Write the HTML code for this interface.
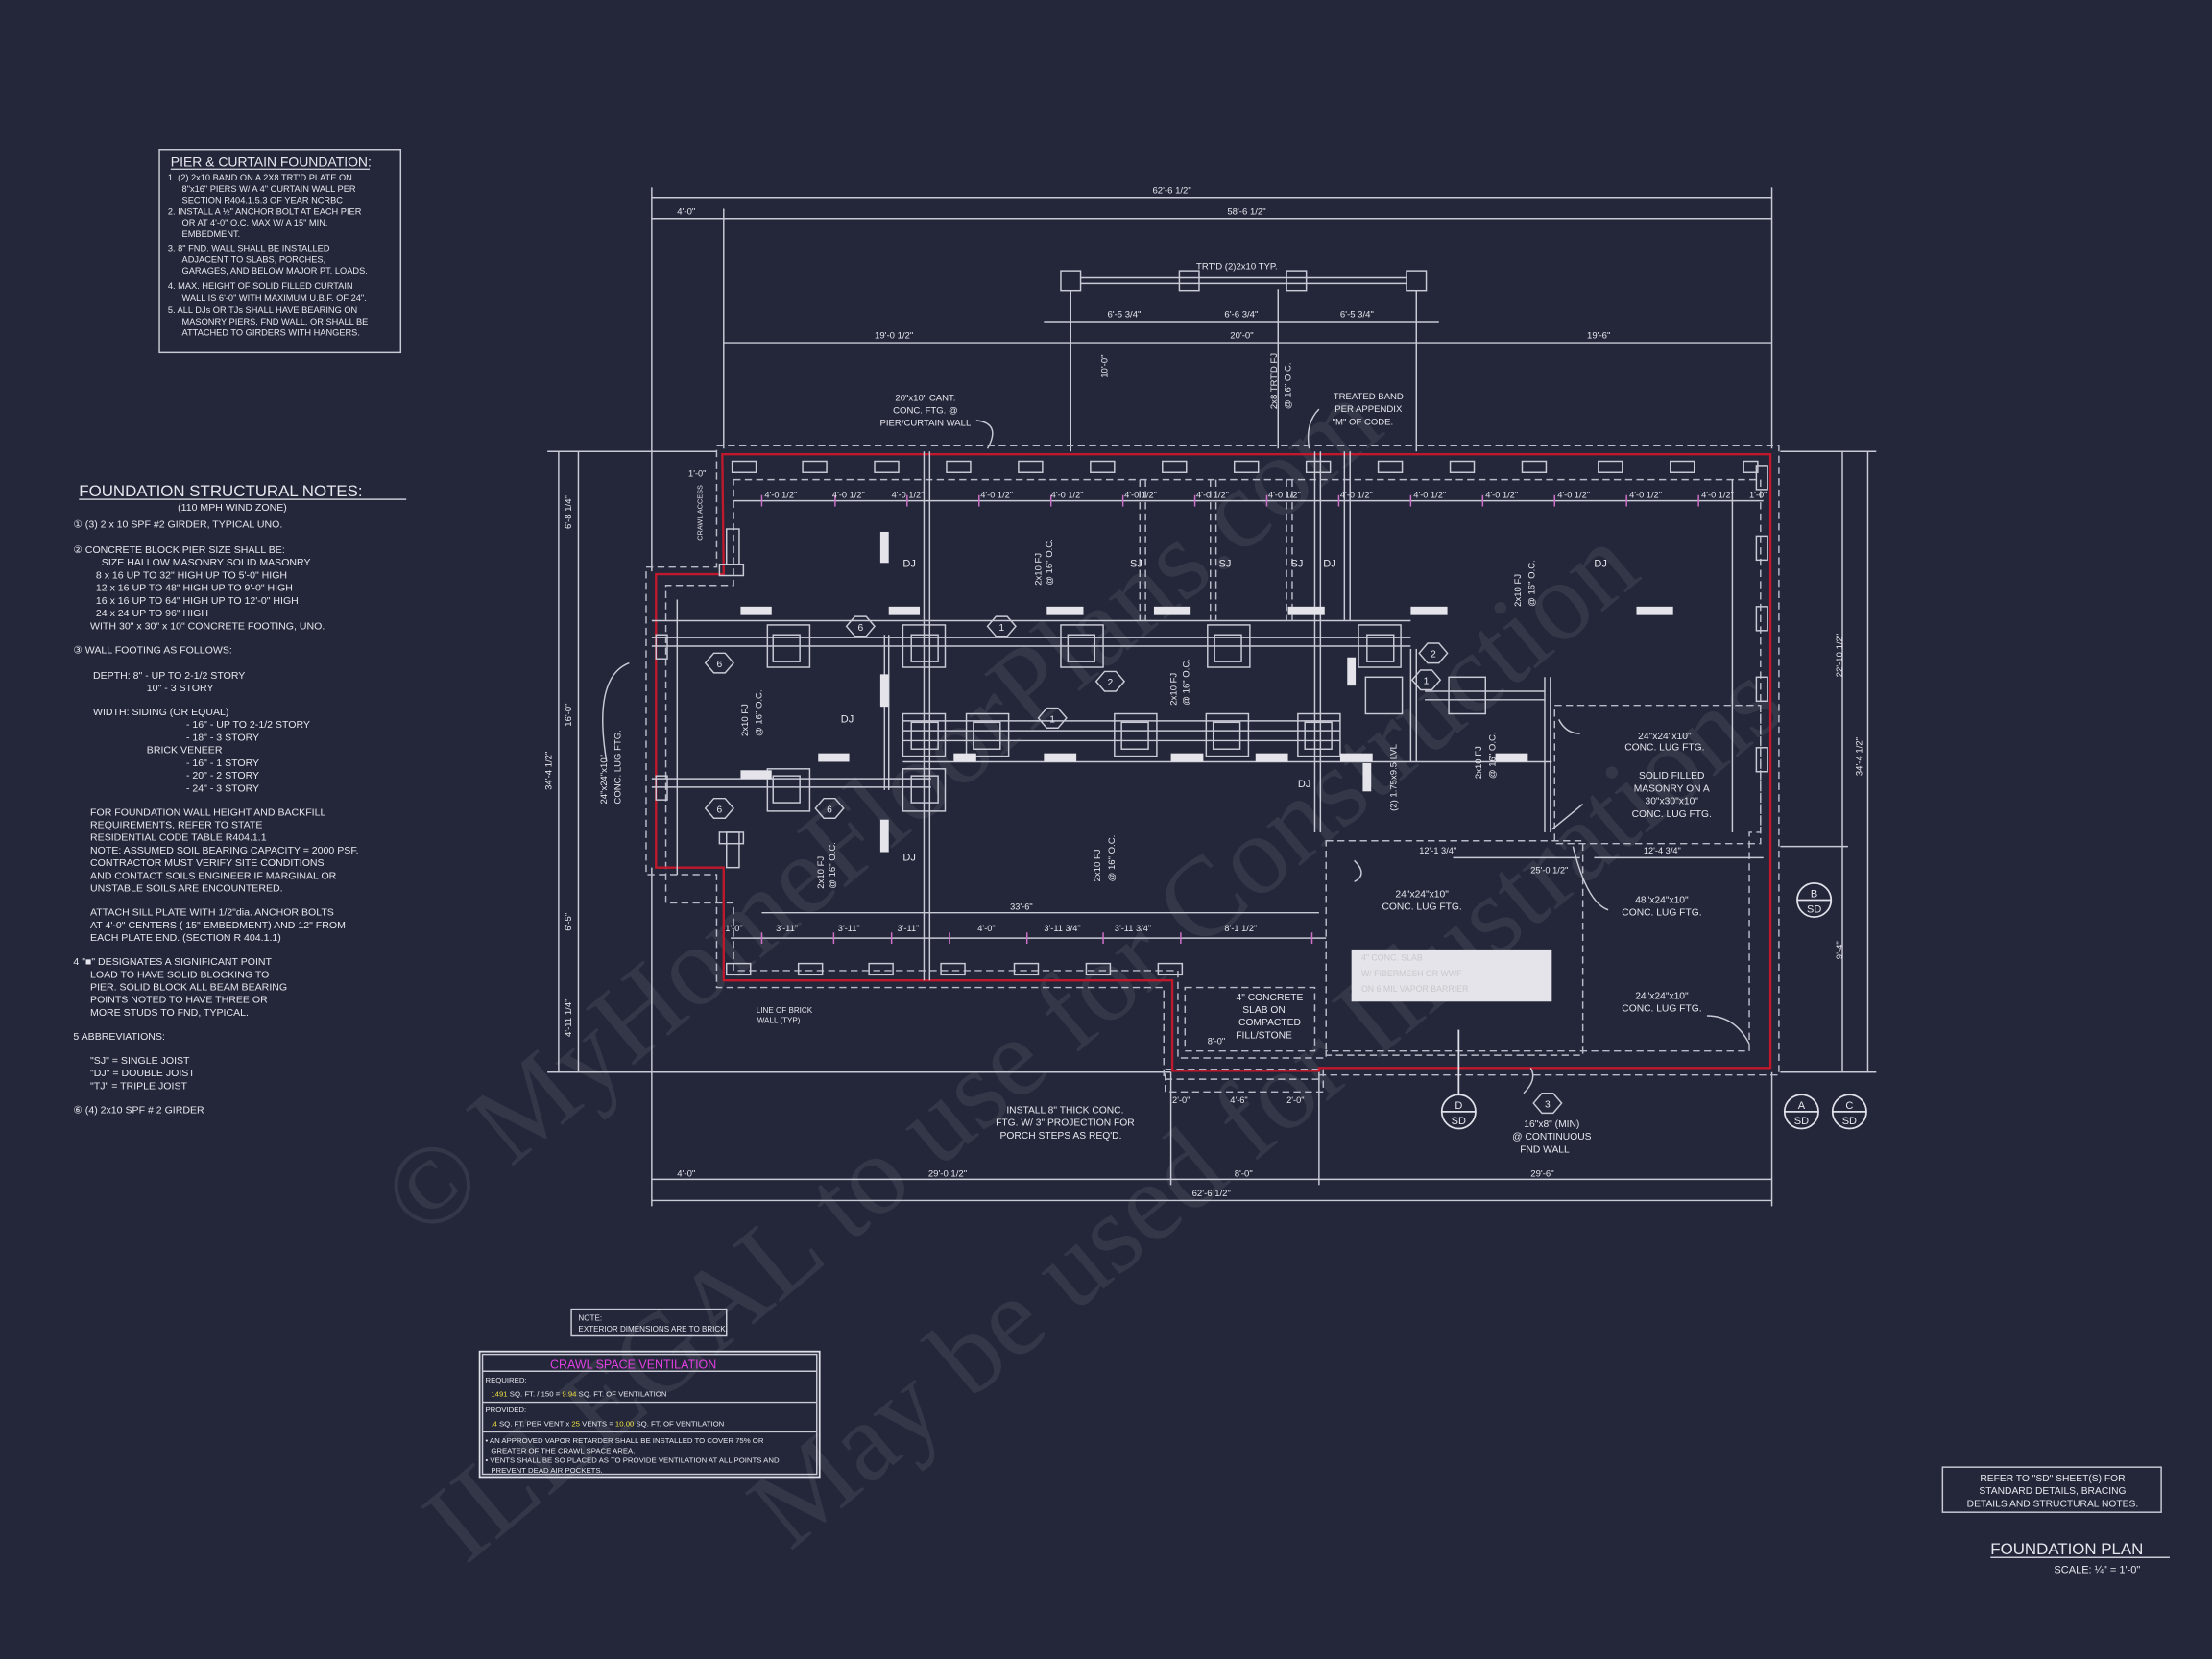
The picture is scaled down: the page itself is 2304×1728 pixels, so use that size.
<!DOCTYPE html>
<html><head><meta charset="utf-8"><style>
html,body{margin:0;padding:0;background:#232739;}
svg{display:block}
text{font-family:"Liberation Sans",sans-serif;fill:#e6e6ee;}
.l{stroke:#c9cad6;stroke-width:1;fill:none}
.t{stroke:#e0e0ea;stroke-width:1.2;fill:none}
.d{stroke:#b9bac8;stroke-width:1;fill:none;stroke-dasharray:5 3}
.r{stroke:#c0182c;stroke-width:1.6;fill:none}
.m{stroke:#d070c8;stroke-width:1}
.w{fill:#e4e4ea}
</style></head><body>
<svg width="2304" height="1728" viewBox="0 0 1568 1176" xmlns="http://www.w3.org/2000/svg">
<rect width="1568" height="1176" fill="#232739"/>

<!-- watermark -->
<g opacity="0.07">
<text x="300" y="880" font-size="80" transform="rotate(-40 300 880)" style="fill:#fff;font-family:'Liberation Serif'">© MyHomeFloorPlans.com</text>
<text x="330" y="1110" font-size="80" transform="rotate(-40 330 1110)" style="fill:#fff;font-family:'Liberation Serif'">ILLEGAL to use for Construction</text>
<text x="560" y="1100" font-size="80" transform="rotate(-40 560 1100)" style="fill:#fff;font-family:'Liberation Serif'">May be used for Illustrations</text>
</g>

<!-- Pier & curtain box -->
<rect x="113" y="106" width="171" height="144" class="l"/>
<text x="121" y="118" font-size="9.5">PIER &amp; CURTAIN FOUNDATION:</text>
<line x1="121" y1="120" x2="262" y2="120" class="l"/>
<g font-size="6.3">
<text x="119" y="128">1. (2) 2x10 BAND ON A 2X8 TRT'D PLATE ON</text>
<text x="129" y="136">8"x16" PIERS W/ A 4" CURTAIN WALL PER</text>
<text x="129" y="144">SECTION R404.1.5.3 OF YEAR NCRBC</text>
<text x="119" y="152">2. INSTALL A ½" ANCHOR BOLT AT EACH PIER</text>
<text x="129" y="160">OR AT 4'-0" O.C. MAX W/ A 15" MIN.</text>
<text x="129" y="168">EMBEDMENT.</text>
<text x="119" y="178">3. 8" FND. WALL SHALL BE INSTALLED</text>
<text x="129" y="186">ADJACENT TO SLABS, PORCHES,</text>
<text x="129" y="194">GARAGES, AND BELOW MAJOR PT. LOADS.</text>
<text x="119" y="205">4. MAX. HEIGHT OF SOLID FILLED CURTAIN</text>
<text x="129" y="213">WALL IS 6'-0" WITH MAXIMUM U.B.F. OF 24".</text>
<text x="119" y="222">5. ALL DJs OR TJs SHALL HAVE BEARING ON</text>
<text x="129" y="230">MASONRY PIERS, FND WALL, OR SHALL BE</text>
<text x="129" y="238">ATTACHED TO GIRDERS WITH HANGERS.</text>
</g>

<!-- Structural notes -->
<text x="56" y="352" font-size="11.5">FOUNDATION STRUCTURAL NOTES:</text>
<line x1="56" y1="354" x2="288" y2="354" class="l"/>
<g font-size="7.2">
<text x="126" y="362">(110 MPH WIND ZONE)</text>
<text x="52" y="374">① (3) 2 x 10 SPF #2 GIRDER, TYPICAL UNO.</text>
<text x="52" y="392">② CONCRETE BLOCK PIER SIZE SHALL BE:</text>
<text x="72" y="401">SIZE      HALLOW MASONRY    SOLID MASONRY</text>
<text x="68" y="410">8 x 16        UP TO 32" HIGH      UP TO 5'-0" HIGH</text>
<text x="68" y="419">12 x 16       UP TO 48" HIGH      UP TO 9'-0" HIGH</text>
<text x="68" y="428">16 x 16       UP TO 64" HIGH      UP TO 12'-0" HIGH</text>
<text x="68" y="437">24 x 24       UP TO 96" HIGH</text>
<text x="64" y="446">WITH 30" x 30" x 10" CONCRETE FOOTING, UNO.</text>
<text x="52" y="463">③ WALL FOOTING AS FOLLOWS:</text>
<text x="66" y="481">DEPTH:   8" - UP TO 2-1/2 STORY</text>
<text x="104" y="490">10" - 3 STORY</text>
<text x="66" y="507">WIDTH:   SIDING (OR EQUAL)</text>
<text x="132" y="516">- 16" - UP TO 2-1/2 STORY</text>
<text x="132" y="525">- 18" - 3 STORY</text>
<text x="104" y="534">BRICK VENEER</text>
<text x="132" y="543">- 16" - 1 STORY</text>
<text x="132" y="552">- 20" - 2 STORY</text>
<text x="132" y="561">- 24" - 3 STORY</text>
<text x="64" y="578">FOR FOUNDATION WALL HEIGHT AND BACKFILL</text>
<text x="64" y="587">REQUIREMENTS, REFER TO STATE</text>
<text x="64" y="596">RESIDENTIAL CODE TABLE R404.1.1</text>
<text x="64" y="605">NOTE: ASSUMED SOIL BEARING CAPACITY = 2000 PSF.</text>
<text x="64" y="614">CONTRACTOR MUST VERIFY SITE CONDITIONS</text>
<text x="64" y="623">AND CONTACT SOILS ENGINEER IF MARGINAL OR</text>
<text x="64" y="632">UNSTABLE SOILS ARE ENCOUNTERED.</text>
<text x="64" y="649">ATTACH SILL PLATE WITH 1/2"dia. ANCHOR BOLTS</text>
<text x="64" y="658">AT 4'-0" CENTERS ( 15" EMBEDMENT) AND 12" FROM</text>
<text x="64" y="667">EACH PLATE END. (SECTION R 404.1.1)</text>
<text x="52" y="684">4  "■" DESIGNATES A SIGNIFICANT POINT</text>
<text x="64" y="693">LOAD TO HAVE SOLID BLOCKING TO</text>
<text x="64" y="702">PIER. SOLID BLOCK ALL BEAM BEARING</text>
<text x="64" y="711">POINTS NOTED TO HAVE THREE OR</text>
<text x="64" y="720">MORE STUDS TO FND, TYPICAL.</text>
<text x="52" y="737">5  ABBREVIATIONS:</text>
<text x="64" y="754">"SJ" = SINGLE JOIST</text>
<text x="64" y="763">"DJ" = DOUBLE JOIST</text>
<text x="64" y="772">"TJ" = TRIPLE JOIST</text>
<text x="52" y="789">⑥ (4) 2x10 SPF # 2 GIRDER</text>
</g>

<!-- overall dimension lines -->
<g class="l">
<line x1="462" y1="140" x2="1256" y2="140"/><line x1="462" y1="155" x2="1256" y2="155"/>
<line x1="462" y1="133" x2="462" y2="405"/><line x1="513" y1="148" x2="513" y2="318"/><line x1="1256" y1="133" x2="1256" y2="318"/>
<line x1="513" y1="243" x2="1256" y2="243"/>
<line x1="740" y1="228" x2="1020" y2="228"/>
<line x1="462" y1="836" x2="1256" y2="836"/><line x1="462" y1="851" x2="1256" y2="851"/>
<line x1="462" y1="615" x2="462" y2="855"/><line x1="1256" y1="760" x2="1256" y2="855"/>
<line x1="830" y1="760" x2="830" y2="840"/><line x1="935" y1="760" x2="935" y2="840"/>
<line x1="396" y1="320" x2="396" y2="760"/><line x1="410" y1="320" x2="410" y2="760"/>
<line x1="388" y1="320" x2="508" y2="320"/><line x1="388" y1="760" x2="830" y2="760"/>
<line x1="1306" y1="320" x2="1306" y2="760"/><line x1="1324" y1="320" x2="1324" y2="760"/>
<line x1="1262" y1="320" x2="1330" y2="320"/><line x1="1262" y1="760" x2="1330" y2="760"/>
<line x1="1262" y1="600" x2="1310" y2="600"/>
</g>
<g font-size="6.5">
<text x="817" y="137">62'-6 1/2"</text><text x="480" y="152">4'-0"</text><text x="870" y="152">58'-6 1/2"</text>
<text x="620" y="240">19'-0 1/2"</text><text x="872" y="240">20'-0"</text><text x="1125" y="240">19'-6"</text>
<text x="785" y="225">6'-5 3/4"</text><text x="868" y="225">6'-6 3/4"</text><text x="950" y="225">6'-5 3/4"</text>
<text x="480" y="834">4'-0"</text><text x="658" y="834">29'-0 1/2"</text><text x="875" y="834">8'-0"</text><text x="1085" y="834">29'-6"</text>
<text x="845" y="848">62'-6 1/2"</text>
<text x="1306" y="480" transform="rotate(-90 1306 480)">22'-10 1/2"</text>
<text x="1320" y="550" transform="rotate(-90 1320 550)">34'-4 1/2"</text>
<text x="1306" y="680" transform="rotate(-90 1306 680)">9'-4"</text>
<text x="391" y="560" transform="rotate(-90 391 560)">34'-4 1/2"</text>
<text x="405" y="375" transform="rotate(-90 405 375)">6'-8 1/4"</text>
<text x="405" y="515" transform="rotate(-90 405 515)">16'-0"</text>
<text x="405" y="660" transform="rotate(-90 405 660)">6'-5"</text>
<text x="405" y="735" transform="rotate(-90 405 735)">4'-11 1/4"</text>
</g>

<!-- rear porch -->
<g class="l">
<rect x="752" y="192" width="14" height="14"/><rect x="836" y="192" width="14" height="14"/><rect x="912" y="192" width="14" height="14"/><rect x="997" y="192" width="14" height="14"/>
<line x1="766" y1="197" x2="997" y2="197"/><line x1="766" y1="201" x2="997" y2="201"/>
<line x1="759" y1="206" x2="759" y2="320"/><line x1="1004" y1="206" x2="1004" y2="320"/>
<line x1="906" y1="205" x2="906" y2="318"/>
</g>
<text x="848" y="191" font-size="6.5">TRT'D (2)2x10 TYP.</text>
<text x="785" y="268" font-size="6.5" transform="rotate(-90 785 268)">10'-0"</text>
<text x="905" y="290" font-size="6.5" transform="rotate(-90 905 290)">2x8 TRT'D FJ</text>
<text x="915" y="290" font-size="6.5" transform="rotate(-90 915 290)">@ 16" O.C.</text>
<g font-size="6.5" text-anchor="middle">
<text x="656" y="284">20"x10" CANT.</text><text x="656" y="293">CONC. FTG. @</text><text x="656" y="302">PIER/CURTAIN WALL</text>
<text x="970" y="283">TREATED BAND</text><text x="970" y="292">PER APPENDIX</text><text x="966" y="301">"M" OF CODE.</text>
</g>
<path d="M692 298 Q710 300 700 318" class="l"/><path d="M935 290 Q925 300 928 318" class="l"/>

<!-- foundation outline -->
<g class="d">
<path d="M508 316 H1261 V762 H935 V765 H825 V700 H508 V620 H458 V402 H508 Z"/>
<path d="M520 340 H1248 V590 H1240 V745 H940 V750 H835 V688 H520 V640 H472 V415 H520 Z"/>
<rect x="940" y="596" width="182" height="152"/>
<rect x="1102" y="500" width="146" height="98"/>
<rect x="840" y="700" width="92" height="45"/>
<rect x="826" y="758" width="112" height="16"/>
</g>
<path d="M512 322 H1255 V757 H935 V759 H831 V695 H513 V615 H465 V407 H513 Z" class="r"/>

<!-- top & bottom piers -->
<g class="l">
<rect x="519" y="327" width="17" height="8"/><rect x="569" y="327" width="17" height="8"/><rect x="620" y="327" width="17" height="8"/><rect x="671" y="327" width="17" height="8"/><rect x="722" y="327" width="17" height="8"/><rect x="773" y="327" width="17" height="8"/><rect x="824" y="327" width="17" height="8"/><rect x="875" y="327" width="17" height="8"/><rect x="926" y="327" width="17" height="8"/><rect x="977" y="327" width="17" height="8"/><rect x="1028" y="327" width="17" height="8"/><rect x="1079" y="327" width="17" height="8"/><rect x="1133" y="327" width="17" height="8"/><rect x="1184" y="327" width="17" height="8"/><rect x="1236" y="327" width="10" height="8"/>
<rect x="515" y="683" width="17" height="8"/><rect x="566" y="683" width="17" height="8"/><rect x="616" y="683" width="17" height="8"/><rect x="667" y="683" width="17" height="8"/><rect x="719" y="683" width="17" height="8"/><rect x="770" y="683" width="17" height="8"/><rect x="821" y="683" width="17" height="8"/>
<rect x="515" y="375" width="9" height="25"/><rect x="510" y="400" width="17" height="8"/>
<rect x="515" y="590" width="9" height="25"/><rect x="510" y="590" width="17" height="8"/>
<rect x="465" y="450" width="8" height="17"/><rect x="465" y="550" width="8" height="17"/>
<rect x="1245" y="330" width="8" height="17"/><rect x="1245" y="380" width="8" height="17"/><rect x="1245" y="430" width="8" height="17"/><rect x="1245" y="480" width="8" height="17"/><rect x="1245" y="530" width="8" height="17"/>
</g>

<!-- dimension strings interior -->
<g class="l">
<line x1="520" y1="355" x2="1250" y2="355"/>
<line x1="518" y1="665" x2="940" y2="665"/><line x1="540" y1="647" x2="935" y2="647"/>
<line x1="1030" y1="608" x2="1120" y2="608"/><line x1="1130" y1="608" x2="1250" y2="608"/>
<line x1="480" y1="425" x2="480" y2="620"/><line x1="1228" y1="340" x2="1228" y2="590"/>
</g>
<g class="m">
<line x1="540" y1="351" x2="540" y2="359"/><line x1="592" y1="351" x2="592" y2="359"/><line x1="643" y1="351" x2="643" y2="359"/><line x1="694" y1="351" x2="694" y2="359"/><line x1="745" y1="351" x2="745" y2="359"/><line x1="796" y1="351" x2="796" y2="359"/><line x1="847" y1="351" x2="847" y2="359"/><line x1="898" y1="351" x2="898" y2="359"/><line x1="949" y1="351" x2="949" y2="359"/><line x1="1000" y1="351" x2="1000" y2="359"/><line x1="1051" y1="351" x2="1051" y2="359"/><line x1="1102" y1="351" x2="1102" y2="359"/><line x1="1153" y1="351" x2="1153" y2="359"/><line x1="1204" y1="351" x2="1204" y2="359"/>
<line x1="540" y1="661" x2="540" y2="669"/><line x1="591" y1="661" x2="591" y2="669"/><line x1="632" y1="661" x2="632" y2="669"/><line x1="673" y1="661" x2="673" y2="669"/><line x1="728" y1="661" x2="728" y2="669"/><line x1="782" y1="661" x2="782" y2="669"/><line x1="837" y1="661" x2="837" y2="669"/><line x1="930" y1="661" x2="930" y2="669"/>
</g>
<g font-size="6.3">
<text x="542" y="353">4'-0 1/2"</text><text x="590" y="353">4'-0 1/2"</text><text x="632" y="353">4'-0 1/2"</text><text x="695" y="353">4'-0 1/2"</text><text x="745" y="353">4'-0 1/2"</text><text x="797" y="353">4'-0 1/2"</text><text x="848" y="353">4'-0 1/2"</text><text x="899" y="353">4'-0 1/2"</text><text x="950" y="353">4'-0 1/2"</text><text x="1002" y="353">4'-0 1/2"</text><text x="1053" y="353">4'-0 1/2"</text><text x="1104" y="353">4'-0 1/2"</text><text x="1155" y="353">4'-0 1/2"</text><text x="1206" y="353">4'-0 1/2"</text>
<text x="514" y="660">1'-0"</text><text x="550" y="660">3'-11"</text><text x="594" y="660">3'-11"</text><text x="636" y="660">3'-11"</text><text x="693" y="660">4'-0"</text><text x="740" y="660">3'-11 3/4"</text><text x="790" y="660">3'-11 3/4"</text><text x="868" y="660">8'-1 1/2"</text>
<text x="716" y="645">33'-6"</text>
<text x="1006" y="605">12'-1 3/4"</text><text x="1165" y="605">12'-4 3/4"</text><text x="1085" y="619">25'-0 1/2"</text>
<text x="488" y="338">1'-0"</text><text x="1240" y="353">1'-0"</text>
</g>

<!-- girders -->
<g class="l">
<line x1="462" y1="440" x2="1000" y2="440"/><line x1="462" y1="452" x2="1000" y2="452"/><line x1="462" y1="458" x2="1000" y2="458"/>
<line x1="640" y1="511" x2="950" y2="511"/><line x1="640" y1="518" x2="950" y2="518"/><line x1="640" y1="525" x2="950" y2="525"/><line x1="640" y1="540" x2="1100" y2="540"/>
<line x1="462" y1="552" x2="660" y2="552"/><line x1="462" y1="558" x2="660" y2="558"/>
<line x1="1010" y1="490" x2="1095" y2="490"/><line x1="1010" y1="496" x2="1095" y2="496"/>
<line x1="655" y1="320" x2="655" y2="695"/><line x1="659" y1="320" x2="659" y2="695"/>
<line x1="630" y1="450" x2="630" y2="560"/><line x1="627" y1="450" x2="627" y2="560"/>
<line x1="932" y1="320" x2="932" y2="590"/><line x1="936" y1="320" x2="936" y2="590"/>
<line x1="953" y1="320" x2="953" y2="440"/><line x1="957" y1="320" x2="957" y2="440"/>
<line x1="1000" y1="460" x2="1000" y2="540"/><line x1="1004" y1="460" x2="1004" y2="540"/>
<line x1="1095" y1="480" x2="1095" y2="590"/><line x1="1099" y1="480" x2="1099" y2="590"/>
</g>
<g class="d">
<line x1="808" y1="340" x2="808" y2="440"/><line x1="812" y1="340" x2="812" y2="440"/>
<line x1="858" y1="340" x2="858" y2="440"/><line x1="862" y1="340" x2="862" y2="440"/>
<line x1="912" y1="340" x2="912" y2="440"/><line x1="916" y1="340" x2="916" y2="440"/>
</g>

<!-- pier symbols -->
<g class="l">
<rect x="544" y="443" width="30" height="30"/><rect x="548" y="450" width="19" height="19"/>
<rect x="640" y="443" width="30" height="30"/><rect x="646" y="450" width="19" height="19"/>
<rect x="752" y="443" width="30" height="30"/><rect x="757" y="450" width="19" height="19"/>
<rect x="856" y="443" width="30" height="30"/><rect x="861" y="450" width="19" height="19"/>
<rect x="963" y="443" width="30" height="30"/><rect x="969" y="450" width="19" height="19"/>
<rect x="640" y="506" width="30" height="30"/><rect x="646" y="512" width="19" height="19"/>
<rect x="685" y="506" width="30" height="30"/><rect x="690" y="512" width="19" height="19"/>
<rect x="790" y="506" width="30" height="30"/><rect x="795" y="512" width="19" height="19"/>
<rect x="855" y="506" width="30" height="30"/><rect x="860" y="512" width="19" height="19"/>
<rect x="920" y="506" width="30" height="30"/><rect x="925" y="512" width="19" height="19"/>
<rect x="544" y="545" width="30" height="30"/><rect x="548" y="550" width="19" height="19"/>
<rect x="640" y="545" width="30" height="30"/><rect x="646" y="550" width="19" height="19"/>
<rect x="968" y="480" width="26" height="26"/><rect x="1027" y="480" width="26" height="26"/>
</g>

<!-- white label patches -->
<g class="w">
<rect x="525" y="430" width="22" height="6"/><rect x="630" y="430" width="22" height="6"/><rect x="742" y="430" width="26" height="6"/><rect x="818" y="430" width="26" height="6"/><rect x="913" y="430" width="26" height="6"/><rect x="1000" y="430" width="26" height="6"/><rect x="1160" y="430" width="26" height="6"/>
<rect x="525" y="546" width="22" height="6"/><rect x="580" y="534" width="22" height="6"/><rect x="676" y="534" width="16" height="6"/><rect x="740" y="534" width="23" height="6"/><rect x="830" y="534" width="23" height="6"/><rect x="890" y="534" width="23" height="6"/><rect x="950" y="534" width="23" height="6"/><rect x="1060" y="534" width="23" height="6"/>
<rect x="624" y="377" width="6" height="22"/><rect x="624" y="478" width="6" height="23"/><rect x="624" y="581" width="6" height="23"/><rect x="955" y="466" width="6" height="20"/><rect x="966" y="541" width="6" height="20"/>
<rect x="958" y="673" width="142" height="37"/>
</g>
<g font-size="6"><text x="965" y="681" style="fill:#c8c8cc">4" CONC. SLAB</text><text x="965" y="692" style="fill:#c8c8cc">W/ FIBERMESH OR WWF</text><text x="965" y="703" style="fill:#c8c8cc">ON 6 MIL VAPOR BARRIER</text></g>

<!-- labels inside -->
<g font-size="7.5">
<text x="640" y="402">DJ</text><text x="801" y="402">SJ</text><text x="864" y="402">SJ</text><text x="915" y="402">SJ</text><text x="938" y="402">DJ</text><text x="1130" y="402">DJ</text>
<text x="596" y="512">DJ</text><text x="920" y="558">DJ</text><text x="640" y="610">DJ</text>
</g>
<g font-size="6.5">
<text x="738" y="415" transform="rotate(-90 738 415)">2x10 FJ</text><text x="746" y="415" transform="rotate(-90 746 415)">@ 16" O.C.</text>
<text x="1078" y="430" transform="rotate(-90 1078 430)">2x10 FJ</text><text x="1088" y="430" transform="rotate(-90 1088 430)">@ 16" O.C.</text>
<text x="530" y="522" transform="rotate(-90 530 522)">2x10 FJ</text><text x="540" y="522" transform="rotate(-90 540 522)">@ 16" O.C.</text>
<text x="834" y="500" transform="rotate(-90 834 500)">2x10 FJ</text><text x="843" y="500" transform="rotate(-90 843 500)">@ 16" O.C.</text>
<text x="584" y="630" transform="rotate(-90 584 630)">2x10 FJ</text><text x="592" y="630" transform="rotate(-90 592 630)">@ 16" O.C.</text>
<text x="780" y="625" transform="rotate(-90 780 625)">2x10 FJ</text><text x="790" y="625" transform="rotate(-90 790 625)">@ 16" O.C.</text>
<text x="1050" y="552" transform="rotate(-90 1050 552)">2x10 FJ</text><text x="1060" y="552" transform="rotate(-90 1060 552)">@ 16" O.C.</text>
<text x="990" y="575" transform="rotate(-90 990 575)">(2) 1.75x9.5 LVL</text>
<text x="498" y="383" font-size="5" transform="rotate(-90 498 383)">CRAWL ACCESS</text>
<text x="430" y="570" transform="rotate(-90 430 570)">24"x24"x10"</text><text x="440" y="570" transform="rotate(-90 440 570)">CONC. LUG FTG.</text>
</g>
<g font-size="7" text-anchor="middle">
<text x="1180" y="524">24"x24"x10"</text><text x="1180" y="532">CONC. LUG FTG.</text>
<text x="1185" y="552">SOLID FILLED</text><text x="1185" y="561">MASONRY ON A</text><text x="1185" y="570">30"x30"x10"</text><text x="1185" y="579">CONC. LUG FTG.</text>
<text x="1008" y="636">24"x24"x10"</text><text x="1008" y="645">CONC. LUG FTG.</text>
<text x="1178" y="640">48"x24"x10"</text><text x="1178" y="649">CONC. LUG FTG.</text>
<text x="1178" y="708">24"x24"x10"</text><text x="1178" y="717">CONC. LUG FTG.</text>
<text x="900" y="709">4" CONCRETE</text><text x="896" y="718">SLAB ON</text><text x="900" y="727">COMPACTED</text><text x="896" y="736">FILL/STONE</text>
<text x="755" y="789">INSTALL 8" THICK CONC.</text><text x="755" y="798">FTG. W/ 3" PROJECTION FOR</text><text x="752" y="807">PORCH STEPS AS REQ'D.</text>
<text x="1100" y="799">16"x8" (MIN)</text><text x="1100" y="808">@ CONTINUOUS</text><text x="1095" y="817">FND WALL</text>
<text x="556" y="718" font-size="5.5">LINE OF BRICK</text><text x="552" y="725" font-size="5.5">WALL (TYP)</text>
</g>
<g font-size="6.3"><text x="856" y="740">8'-0"</text><text x="831" y="782">2'-0"</text><text x="872" y="782">4'-6"</text><text x="912" y="782">2'-0"</text></g>
<g class="l">
<path d="M960 625 Q970 620 960 610"/><path d="M1122 570 Q1110 580 1100 588"/><path d="M1120 520 Q1110 520 1105 510"/><path d="M1140 645 Q1125 640 1115 600"/><path d="M1210 720 Q1230 720 1240 740"/><path d="M1080 775 Q1090 765 1085 757"/><path d="M430 540 Q420 480 446 470"/>
</g>

<!-- hex tags -->
<g class="l">
<polygon points="600,444 606,437 614,437 620,444 614,451 606,451"/><polygon points="700,444 706,437 714,437 720,444 714,451 706,451"/>
<polygon points="500,470 506,463 514,463 520,470 514,477 506,477"/><polygon points="500,573 506,566 514,566 520,573 514,580 506,580"/><polygon points="578,573 584,566 592,566 598,573 592,580 584,580"/>
<polygon points="736,509 742,502 750,502 756,509 750,516 742,516"/><polygon points="777,483 783,476 791,476 797,483 791,490 783,490"/>
<polygon points="1006,463 1012,456 1020,456 1026,463 1020,470 1012,470"/><polygon points="1001,482 1007,475 1015,475 1021,482 1015,489 1007,489"/>
<polygon points="1087,782 1093,775 1101,775 1107,782 1101,789 1093,789"/>
</g>
<g font-size="7" text-anchor="middle"><text x="610" y="447">6</text><text x="710" y="447">1</text><text x="510" y="473">6</text><text x="510" y="576">6</text><text x="588" y="576">6</text><text x="746" y="512">1</text><text x="787" y="486">2</text><text x="1016" y="466">2</text><text x="1011" y="485">1</text><text x="1097" y="785">3</text></g>

<!-- section circles -->
<g class="t">
<circle cx="1286" cy="638" r="12"/><line x1="1274" y1="638" x2="1298" y2="638"/>
<circle cx="1034" cy="788" r="12"/><line x1="1022" y1="788" x2="1046" y2="788"/>
<circle cx="1277" cy="788" r="12"/><line x1="1265" y1="788" x2="1289" y2="788"/>
<circle cx="1311" cy="788" r="12"/><line x1="1299" y1="788" x2="1323" y2="788"/>
<line x1="1034" y1="730" x2="1034" y2="776"/>
</g>
<g font-size="7.5" text-anchor="middle">
<text x="1286" y="636">B</text><text x="1286" y="647">SD</text><text x="1034" y="786">D</text><text x="1034" y="797">SD</text>
<text x="1277" y="786">A</text><text x="1277" y="797">SD</text><text x="1311" y="786">C</text><text x="1311" y="797">SD</text>
</g>

<!-- note box -->
<rect x="405" y="928" width="110" height="19" class="l"/>
<text x="410" y="936" font-size="5.5">NOTE:</text><text x="410" y="944" font-size="5.5">EXTERIOR DIMENSIONS ARE TO BRICK.</text>

<!-- crawl space table -->
<rect x="340" y="958" width="241" height="89" class="t"/>
<rect x="342" y="960" width="237" height="85" class="l"/>
<line x1="342" y1="972" x2="579" y2="972" class="l"/><line x1="342" y1="994" x2="579" y2="994" class="l"/><line x1="342" y1="1015" x2="579" y2="1015" class="l"/>
<text x="390" y="970" font-size="8.5" style="fill:#e040e0">CRAWL SPACE VENTILATION</text>
<g font-size="5.3">
<text x="344" y="980">REQUIRED:</text>
<text x="348" y="990"><tspan style="fill:#f0e040">1491</tspan>    SQ. FT. / 150 =  <tspan style="fill:#f0e040">9.94</tspan>    SQ. FT. OF VENTILATION</text>
<text x="344" y="1001">PROVIDED:</text>
<text x="348" y="1011"><tspan style="fill:#f0e040">.4</tspan>    SQ. FT. PER VENT x   <tspan style="fill:#f0e040">25</tspan>    VENTS =  <tspan style="fill:#f0e040">10.00</tspan>    SQ. FT. OF VENTILATION</text>
<text x="344" y="1023">• AN APPROVED VAPOR RETARDER SHALL BE INSTALLED TO COVER 75% OR</text>
<text x="348" y="1030">GREATER OF THE CRAWL SPACE AREA.</text>
<text x="344" y="1037">• VENTS SHALL BE SO PLACED AS TO PROVIDE VENTILATION AT ALL POINTS AND</text>
<text x="348" y="1044">PREVENT DEAD AIR POCKETS.</text>
</g>

<!-- bottom right -->
<rect x="1377" y="1040" width="155" height="32" class="l"/>
<g font-size="7" text-anchor="middle"><text x="1455" y="1050">REFER TO "SD" SHEET(S) FOR</text><text x="1455" y="1059">STANDARD DETAILS, BRACING</text><text x="1455" y="1068">DETAILS AND STRUCTURAL NOTES.</text></g>
<text x="1411" y="1102" font-size="11.5">FOUNDATION PLAN</text>
<line x1="1411" y1="1104" x2="1538" y2="1104" class="l"/>
<text x="1456" y="1115" font-size="7.5">SCALE: ¼" = 1'-0"</text>
</svg>
</body></html>
